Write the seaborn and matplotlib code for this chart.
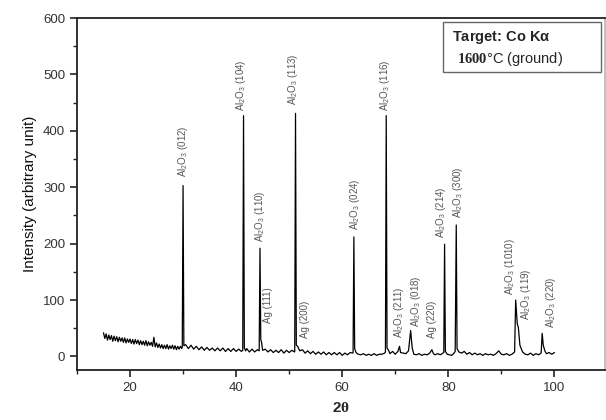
import matplotlib
matplotlib.use("Agg")
import matplotlib.pyplot as plt
from matplotlib.ticker import MultipleLocator
from matplotlib.patches import Rectangle
import seaborn as sns
import pandas as pd

# XRD trace (2theta in degrees, intensity in arbitrary units)
two_theta = [
    15.0, 15.25, 15.5, 15.75, 16.0, 16.25, 16.5, 16.75, 17.0, 17.25,
    17.5, 17.75, 18.0, 18.25, 18.5, 18.75, 19.0, 19.25, 19.5, 19.75,
    20.0, 20.25, 20.5, 20.75, 21.0, 21.25, 21.5, 21.75, 22.0, 22.25,
    22.5, 22.75, 23.0, 23.25, 23.5, 23.75, 24.0, 24.25, 24.5, 24.75,
    25.0, 25.25, 25.5, 25.75, 26.0, 26.25, 26.5, 26.75, 27.0, 27.25,
    27.5, 27.75, 28.0, 28.25, 28.5, 28.75, 29.0, 29.25, 29.5, 29.75,
    29.85, 30.0, 30.15, 30.5, 31.0, 31.5, 32.0, 32.5, 33.0, 33.5,
    34.0, 34.5, 35.0, 35.5, 36.0, 36.5, 37.0, 37.5, 38.0, 38.5,
    39.0, 39.5, 40.0, 40.5, 41.0, 41.25, 41.4, 41.55, 41.8, 42.0,
    42.5, 43.0, 43.5, 44.0, 44.35, 44.5, 44.65, 44.8, 45.0, 45.5,
    46.0, 46.5, 47.0, 47.5, 48.0, 48.5, 49.0, 49.5, 50.0, 50.5,
    51.0, 51.05, 51.2, 51.35, 51.6, 52.0, 52.5, 53.0, 53.5, 54.0,
    54.5, 55.0, 55.5, 56.0, 56.5, 57.0, 57.5, 58.0, 58.5, 59.0,
    59.5, 60.0, 60.5, 61.0, 61.5, 62.0, 62.05, 62.2, 62.35, 62.6,
    63.0, 63.5, 64.0, 64.5, 65.0, 65.5, 66.0, 66.5, 67.0, 67.5,
    68.0, 68.15, 68.3, 68.45, 68.8, 69.0, 69.5, 70.0, 70.5, 70.8,
    71.0, 71.5, 72.0, 72.5, 72.9, 73.2, 73.5, 74.0, 74.5, 75.0,
    75.5, 76.0, 76.5, 76.9, 77.2, 77.5, 78.0, 78.5, 79.0, 79.15,
    79.3, 79.45, 79.8, 80.2, 80.6, 81.0, 81.3, 81.5, 81.65, 82.0,
    82.5, 83.0, 83.5, 84.0, 84.5, 85.0, 85.5, 86.0, 86.5, 87.0,
    87.5, 88.0, 88.5, 89.0, 89.5, 90.0, 90.5, 91.0, 91.5, 92.0,
    92.5, 92.7, 93.0, 93.2, 93.5, 94.0, 94.5, 95.0, 95.5, 96.0,
    96.5, 97.0, 97.5, 97.7, 97.9, 98.2, 98.5, 99.0, 99.5, 100.0,
]
intensity = [
    42, 32, 40, 29, 38, 30, 37, 27, 36, 28,
    35, 26, 34, 27, 33, 25, 33, 24, 31, 25,
    31, 23, 30, 22, 30, 23, 29, 21, 28, 21,
    27, 20, 28, 19, 26, 20, 25, 18, 34, 17,
    24, 16, 22, 15, 21, 14, 20, 14, 21, 13,
    19, 14, 20, 13, 19, 12, 18, 13, 18, 14,
    17, 303, 19, 21, 14, 20, 13, 18, 12, 17,
    11, 16, 11, 15, 10, 15, 10, 15, 9, 14,
    9, 14, 9, 13, 9, 11, 427, 15, 10, 14,
    8, 13, 8, 12, 10, 192, 30, 25, 11, 13,
    8, 12, 7, 11, 7, 12, 6, 11, 7, 11,
    8, 9, 431, 20, 18, 10, 12, 6, 10, 5,
    9, 4, 8, 4, 8, 3, 7, 3, 7, 3,
    7, 2, 6, 3, 7, 6, 8, 212, 14, 7,
    4, 3, 5, 2, 4, 2, 5, 2, 4, 4,
    6, 8, 427, 15, 10, 5, 9, 4, 9, 18,
    7, 6, 5, 10, 46, 15, 4, 3, 5, 2,
    4, 3, 6, 12, 5, 3, 5, 3, 6, 7,
    199, 9, 4, 3, 2, 5, 9, 233, 14, 8,
    6, 9, 4, 7, 3, 6, 3, 5, 2, 5,
    3, 4, 2, 5, 10, 4, 3, 5, 2, 4,
    8, 100, 58, 52, 20, 8, 4, 3, 6, 2,
    5, 3, 6, 41, 20, 10, 5, 7, 4, 7,
]

# peak annotations: text, x position, bottom of the text
peak_labels = [
    "Al$_2$O$_3$ (012)", "Al$_2$O$_3$ (104)", "Al$_2$O$_3$ (110)", "Ag (111)",
    "Al$_2$O$_3$ (113)", "Ag (200)", "Al$_2$O$_3$ (024)", "Al$_2$O$_3$ (116)",
    "Al$_2$O$_3$ (211)", "Al$_2$O$_3$ (018)", "Ag (220)", "Al$_2$O$_3$ (214)",
    "Al$_2$O$_3$ (300)", "Al$_2$O$_3$ (1010)", "Al$_2$O$_3$ (119)", "Al$_2$O$_3$ (220)",
]
label_theta = [30.0, 41.0, 44.5, 46.0, 50.7, 52.9, 62.4, 68.0,
               70.8, 74.0, 77.0, 78.7, 81.9, 91.7, 94.7, 99.4]
label_base = [318, 436, 203, 60, 445, 33, 224, 436,
              33, 53, 33, 210, 245, 109, 65, 51]

df = pd.DataFrame({"two_theta": two_theta, "intensity": intensity})

sns.set_style("ticks")
plt.rcParams["font.family"] = ["Liberation Sans", "DejaVu Sans"]
plt.rcParams["mathtext.fontset"] = "custom"
plt.rcParams["mathtext.default"] = "regular"
plt.rcParams["mathtext.rm"] = "Liberation Sans"
plt.rcParams["mathtext.bf"] = "Liberation Serif:bold"

fig = plt.figure(figsize=(6.06, 4.2), dpi=100)
ax = fig.add_axes([0.127, 0.119, 0.871, 0.838])

sns.lineplot(data=df, x="two_theta", y="intensity", estimator=None, sort=False,
             color="black", linewidth=0.9, ax=ax)

for txt, xp, yb in zip(peak_labels, label_theta, label_base):
    ax.text(xp, yb, txt, rotation=90, ha="center", va="bottom",
            fontsize=7, color="#555555")

ax.set_xlim(10, 109.5)
ax.set_ylim(-24, 600)
ax.xaxis.set_major_locator(MultipleLocator(20))
ax.xaxis.set_minor_locator(MultipleLocator(10))
ax.yaxis.set_major_locator(MultipleLocator(100))
ax.yaxis.set_minor_locator(MultipleLocator(50))
ax.tick_params(which="major", direction="out", length=5, width=1.2,
               labelsize=9.5, labelcolor="#333333", color="#222222")
ax.tick_params(which="minor", direction="out", length=3, width=1.0, color="#222222")

for side in ["top", "bottom", "left", "right"]:
    ax.spines[side].set_visible(True)
    ax.spines[side].set_linewidth(1.3)
    ax.spines[side].set_color("#222222")
ax.spines["right"].set_color("#bbbbbb")

ax.set_xlabel(r"2$\mathbf{\theta}$", fontsize=11, fontweight="bold", labelpad=5)
ax.set_ylabel("Intensity (arbitrary unit)", fontsize=11, labelpad=4, color="#111111")

# target box in the corner
ax.add_patch(Rectangle((0.694, 0.846), 0.298, 0.143, transform=ax.transAxes,
                       fill=False, edgecolor="#666666", linewidth=1.0))
ax.text(0.711, 0.945, "Target: Co K$\\alpha$", transform=ax.transAxes,
        fontsize=10.5, fontweight="bold", va="center", ha="left")
ax.text(0.72, 0.883, "$\\mathbf{1600}$\u00b0C (ground)", transform=ax.transAxes,
        fontsize=10.5, va="center", ha="left")

fig.savefig("out.png", dpi=100)
